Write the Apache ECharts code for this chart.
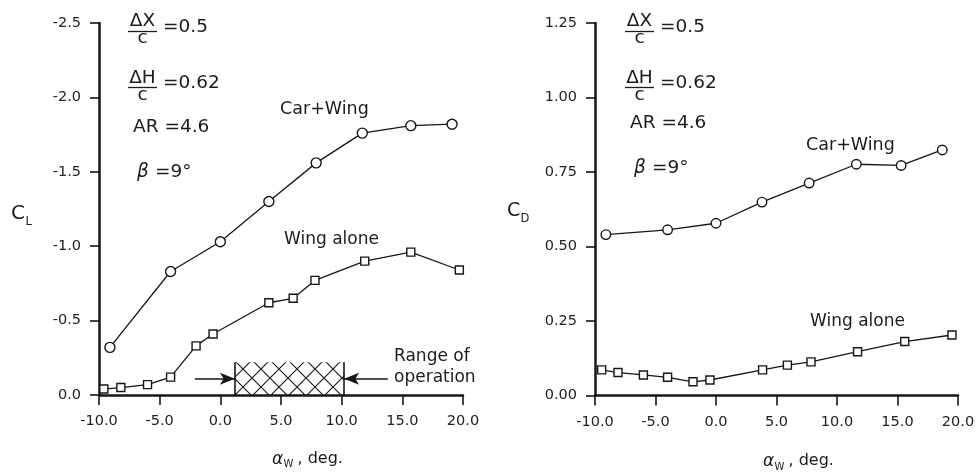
<!DOCTYPE html>
<html><head><meta charset="utf-8">
<script src="https://cdn.jsdelivr.net/npm/echarts@6/dist/echarts.min.js"></script>
<style>html,body{margin:0;padding:0;background:#fff}#c{width:977px;height:473px}</style>
</head><body><div id="c"></div>
<script>
// ---- data ----
const alphaCarWingCL = [-9.1, -4.1, 0.0, 4.0, 7.9, 11.7, 15.7, 19.1];
const clCarWing      = [-0.32, -0.83, -1.03, -1.30, -1.56, -1.76, -1.81, -1.82];
const alphaWingCL    = [-9.6, -8.2, -6.0, -4.1, -2.0, -0.6, 4.0, 6.0, 7.8, 11.9, 15.7, 19.7];
const clWing         = [-0.04, -0.05, -0.07, -0.12, -0.33, -0.41, -0.62, -0.65, -0.77, -0.90, -0.96, -0.84];

const alphaCarWingCD = [-9.1, -4.0, 0.0, 3.8, 7.7, 11.6, 15.3, 18.7];
const cdCarWing      = [0.54, 0.556, 0.578, 0.649, 0.713, 0.776, 0.772, 0.824];
const alphaWingCD    = [-9.45, -8.1, -6.0, -4.0, -1.9, -0.5, 3.85, 5.9, 7.85, 11.7, 15.6, 19.5];
const cdWing         = [0.086, 0.077, 0.069, 0.061, 0.046, 0.052, 0.086, 0.102, 0.113, 0.147, 0.181, 0.203];

const alphaRange = [-10, 20, 5];          // min, max, interval
const clRange    = [-2.5, 0, 0.5];
const cdRange    = [0, 1.25, 0.25];
const operationRange = [1.2, 10.2];       // alpha_w range of operation
const operationTop   = -0.22;             // hatch height (C_L)
const arrowLevel     = -0.11;
const arrowTails     = [-2.1, 13.8];

// ---- rendering ----
const INK = '#161616';
const FONT = 'DejaVu Sans';
const pairs = (xs, ys) => xs.map((x, i) => [x, ys[i]]);

const hatch = document.createElement('canvas');
hatch.width = 18; hatch.height = 18;
const hg = hatch.getContext('2d');
hg.strokeStyle = INK; hg.lineWidth = 1.1;
hg.beginPath();
hg.moveTo(0, 0); hg.lineTo(18, 18);
hg.moveTo(18, 0); hg.lineTo(0, 18);
hg.stroke();

function xAxisCfg(gi) {
  return {
    type: 'value', gridIndex: gi, min: alphaRange[0], max: alphaRange[1], interval: alphaRange[2],
    axisLine: { show: true, onZero: false, lineStyle: { color: INK, width: 2.5 } },
    axisTick: { show: true, length: 10, lineStyle: { color: INK, width: 1.6 } },
    axisLabel: { margin: 19, fontSize: 14.5, fontFamily: FONT, color: '#222', formatter: v => v.toFixed(1) },
    splitLine: { show: false }
  };
}
function yAxisCfg(gi, r, dec, inverse) {
  return {
    type: 'value', gridIndex: gi, min: r[0], max: r[1], interval: r[2], inverse: inverse,
    axisLine: { show: true, onZero: false, lineStyle: { color: INK, width: 2.5 } },
    axisTick: { show: true, length: 9, lineStyle: { color: INK, width: 1.6 } },
    axisLabel: { margin: 18, fontSize: 14.5, fontFamily: FONT, color: '#222', formatter: v => v.toFixed(dec) },
    splitLine: { show: false }
  };
}
function lineSeries(xi, data, symbol, size) {
  return {
    type: 'line', xAxisIndex: xi, yAxisIndex: xi, data: data,
    symbol: symbol, symbolSize: size, showAllSymbol: true,
    lineStyle: { color: INK, width: 1.3 },
    itemStyle: { color: '#fff', borderColor: INK, borderWidth: 1.4 },
    emphasis: { disabled: true }, animation: false, z: 3
  };
}

function txt(x, y, text, size, opts) {
  opts = opts || {};
  return {
    type: 'text', x: x, y: y, silent: true, z: 10,
    style: {
      text: text, font: (opts.italic ? 'italic ' : '') + size + 'px "' + FONT + '"', fill: '#1c1c1c',
      textAlign: opts.align || 'left', align: opts.align || 'left',
      textVerticalAlign: 'middle', verticalAlign: 'middle'
    }
  };
}
function hline(x1, x2, y) {
  return { type: 'line', silent: true, z: 10, shape: { x1: x1, y1: y, x2: x2, y2: y }, style: { stroke: '#1c1c1c', lineWidth: 1.3 } };
}
function paramBlock(dx, dyAR, dyB) {
  return [
    txt(142.5 + dx, 21.5, 'ΔX', 18.5, { align: 'center' }),
    hline(128 + dx, 157 + dx, 31.5),
    txt(142.5 + dx, 38.5, 'c', 18.5, { align: 'center' }),
    txt(163 + dx, 27, '=0.5', 18.5),
    txt(142.5 + dx, 78, 'ΔH', 18.5, { align: 'center' }),
    hline(128 + dx, 157 + dx, 87.5),
    txt(142.5 + dx, 95, 'c', 18.5, { align: 'center' }),
    txt(163 + dx, 83, '=0.62', 18.5),
    txt(133 + dx, 126.7 + dyAR, 'AR =4.6', 18.5),
    txt(137 + dx, 171.7 + dyB, 'β', 18.5, { italic: true }),
    txt(155 + dx, 171.7 + dyB, '=9°', 18.5)
  ];
}

const graphics = [].concat(
  paramBlock(0, 0, 0),
  paramBlock(497, -3.5, -3.5),
  [
    txt(280, 109, 'Car+Wing', 17.5),
    txt(284, 240, 'Wing alone', 17),
    txt(394, 356.5, 'Range of', 17),
    txt(394, 378, 'operation', 17),
    txt(806, 145, 'Car+Wing', 17.5),
    txt(810, 321.5, 'Wing alone', 17),
    txt(11, 214, 'C', 20),
    txt(25.5, 222, 'L', 11.5),
    txt(507, 211.5, 'C', 19),
    txt(520.5, 219.5, 'D', 11.5),
    txt(272, 459.5, 'α', 17, { italic: true }),
    txt(283.5, 464.5, 'W', 10),
    txt(297.5, 458.5, ', deg.', 16),
    txt(763, 462, 'α', 17, { italic: true }),
    txt(774.5, 467, 'W', 10),
    txt(788.5, 461, ', deg.', 16)
  ]
);

const wingCL = lineSeries(0, pairs(alphaWingCL, clWing), 'rect', 8);
wingCL.markArea = {
  silent: true, label: { show: false },
  itemStyle: { color: { image: hatch, repeat: 'repeat' }, borderWidth: 0 },
  data: [[{ coord: [operationRange[0], operationTop] }, { coord: [operationRange[1], 0] }]]
};
wingCL.markLine = {
  silent: true, animation: false, label: { show: false },
  symbol: ['none', 'arrow'], symbolSize: [9, 15],
  lineStyle: { color: INK, width: 1.6, type: 'solid' },
  emphasis: { disabled: true },
  data: [
    [{ coord: [arrowTails[0], arrowLevel] }, { coord: [operationRange[0], arrowLevel] }],
    [{ coord: [arrowTails[1], arrowLevel] }, { coord: [operationRange[1], arrowLevel] }],
    [{ coord: [operationRange[0], 0], symbol: 'none' }, { coord: [operationRange[0], operationTop], symbol: 'none' }],
    [{ coord: [operationRange[1], 0], symbol: 'none' }, { coord: [operationRange[1], operationTop], symbol: 'none' }]
  ]
};

const chart = echarts.init(document.getElementById('c'), null, { renderer: 'canvas' });
chart.setOption({
  backgroundColor: '#fff',
  animation: false,
  grid: [
    { left: 99, top: 23, width: 364, height: 372, outerBoundsMode: 'none', containLabel: false },
    { left: 595, top: 23, width: 363, height: 372.5, outerBoundsMode: 'none', containLabel: false }
  ],
  xAxis: [xAxisCfg(0), xAxisCfg(1)],
  yAxis: [yAxisCfg(0, clRange, 1, true), yAxisCfg(1, cdRange, 2, false)],
  series: [
    lineSeries(0, pairs(alphaCarWingCL, clCarWing), 'circle', 10),
    wingCL,
    lineSeries(1, pairs(alphaCarWingCD, cdCarWing), 'circle', 9.5),
    lineSeries(1, pairs(alphaWingCD, cdWing), 'rect', 8)
  ],
  graphic: graphics
});
</script></body></html>
